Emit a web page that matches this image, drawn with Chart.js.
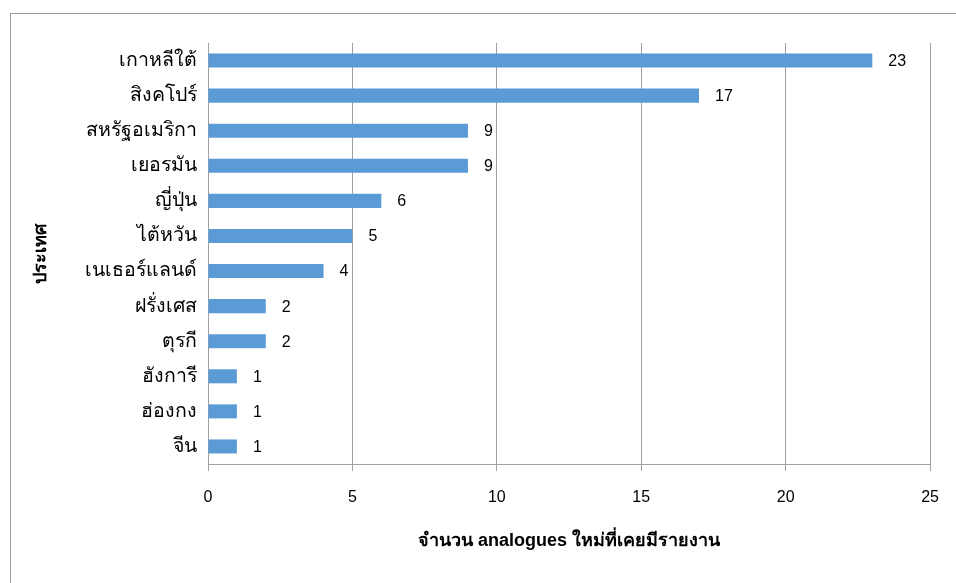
<!DOCTYPE html>
<html>
<head>
<meta charset="utf-8">
<script src="https://cdn.jsdelivr.net/npm/chart.js@4/dist/chart.umd.min.js"></script>
<style>
html,body{margin:0;padding:0;background:#fff;}
#wrap{position:absolute;left:0;top:0;width:956px;height:583px;}
</style>
</head>
<body>
<div id="wrap"><canvas id="c" width="956" height="583"></canvas></div>
<script>
const categories = ['เกาหลีใต้','สิงคโปร์','สหรัฐอเมริกา','เยอรมัน','ญี่ปุ่น','ไต้หวัน','เนเธอร์แลนด์','ฝรั่งเศส','ตุรกี','ฮังการี','ฮ่องกง','จีน'];
const values = [23,17,9,9,6,5,4,2,2,1,1,1];
const xTitle = 'จำนวน analogues ใหม่ที่เคยมีรายงาน';
const yTitle = 'ประเทศ';

const FONT = "'Liberation Sans', Arial, 'DejaVu Sans', sans-serif";

const frame = {
  id:'frame',
  beforeDraw(chart){
    const ctx = chart.ctx;
    ctx.save();
    ctx.fillStyle = '#fff';
    ctx.fillRect(0,0,chart.width,chart.height);
    ctx.strokeStyle = '#999';
    ctx.lineWidth = 1;
    ctx.strokeRect(10.5,13.5,2000,2000);
    ctx.restore();
  }
};

const valueLabels = {
  id:'valueLabels',
  afterDatasetsDraw(chart){
    const ctx = chart.ctx;
    const meta = chart.getDatasetMeta(0);
    ctx.save();
    ctx.font = '16px ' + FONT;
    ctx.fillStyle = '#000';
    ctx.textAlign = 'left';
    ctx.textBaseline = 'middle';
    meta.data.forEach((bar,i)=>{
      ctx.fillText(String(values[i]), bar.x + 16, bar.y + 1);
    });
    ctx.restore();
  }
};

new Chart(document.getElementById('c'), {
  type:'bar',
  data:{
    labels:categories,
    datasets:[{
      data:values,
      backgroundColor:'#5B9BD5',
      borderWidth:0,
      barPercentage:0.4,
      categoryPercentage:1
    }]
  },
  options:{
    indexAxis:'y',
    responsive:false,
    animation:false,
    layout:{padding:{top:43,left:25,right:25,bottom:30}},
    plugins:{legend:{display:false},tooltip:{enabled:false}},
    scales:{
      x:{
        min:0,max:25,
        ticks:{stepSize:5,color:'#000',font:{size:16,family:FONT},padding:17},
        grid:{color:'#a0a0a0',tickLength:7,drawTicks:true},
        border:{display:true,color:'#a0a0a0'},
        title:{display:true,text:xTitle,color:'#000',font:{size:18,weight:'bold',family:FONT},padding:{top:4,bottom:1}},
        afterFit(s){ s.height = 583 - 30 - 464; }
      },
      y:{
        ticks:{color:'#000',font:{size:19.5,family:FONT},padding:11},
        grid:{display:false,drawTicks:false},
        border:{display:true,color:'#a0a0a0'},
        title:{display:true,text:yTitle,color:'#000',font:{size:18,weight:'bold',family:FONT},padding:{top:5,bottom:0}},
        afterFit(s){ s.width = 208 - 25; }
      }
    }
  },
  plugins:[frame,valueLabels]
});
</script>
</body>
</html>
